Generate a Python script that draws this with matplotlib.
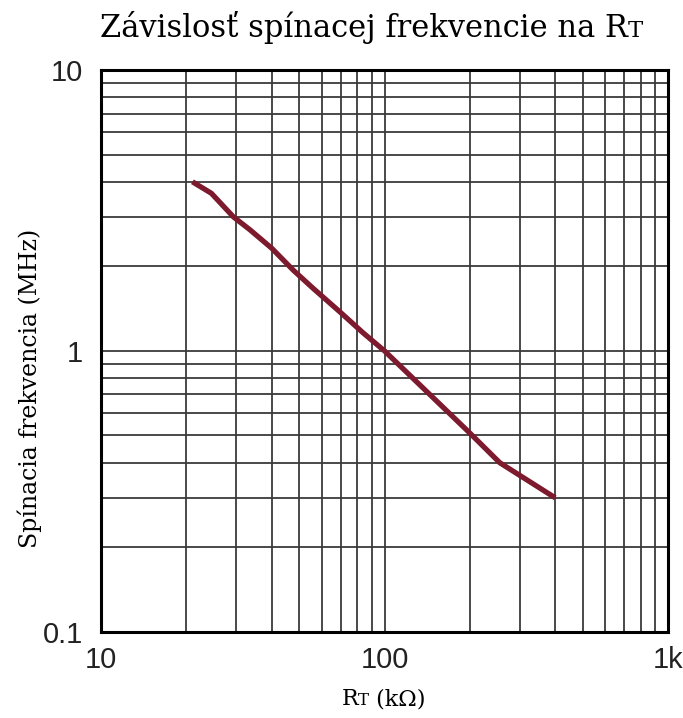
import matplotlib
matplotlib.use("Agg")
import matplotlib.pyplot as plt
from matplotlib.ticker import LogLocator, FixedLocator, FixedFormatter, NullFormatter

# values (RT in kOhm, frequency in MHz)
rt_kohm = [21, 24.5, 29.3, 33.5, 40, 47.6, 56, 70, 84, 100, 200, 255, 400]
freq_mhz = [4.0, 3.64, 3.0, 2.70, 2.32, 1.94, 1.67, 1.37, 1.16, 1.0, 0.51, 0.40, 0.30]
x_ticks = [10, 100, 1000]
x_labels = ["10", "100", "1k"]
y_ticks = [0.1, 1, 10]
y_labels = ["0.1", "1", "10"]

serif = "DejaVu Serif"
sans = "Liberation Sans"

fig = plt.figure(figsize=(6.83, 7.18), dpi=100)
ax = fig.add_axes([0.148, 0.120, 0.830, 0.7825])
ax.set_xscale("log"); ax.set_yscale("log")
ax.set_xlim(10, 1000); ax.set_ylim(0.1, 10)

ax.plot(rt_kohm, freq_mhz, color="#7d1a2e", lw=3.8, solid_capstyle="butt", zorder=3)

for a in (ax.xaxis, ax.yaxis):
    a.set_minor_locator(LogLocator(base=10, subs=range(2, 10)))
    a.set_minor_formatter(NullFormatter())
ax.xaxis.set_major_locator(FixedLocator(x_ticks)); ax.xaxis.set_major_formatter(FixedFormatter(x_labels))
ax.yaxis.set_major_locator(FixedLocator(y_ticks)); ax.yaxis.set_major_formatter(FixedFormatter(y_labels))
ax.grid(True, which="both", color="#3a3a3a", lw=1.3)
ax.tick_params(which="both", length=0, labelsize=21, labelcolor="#222222", labelfontfamily=sans)
ax.tick_params(axis="x", pad=10)
ax.tick_params(axis="y", pad=13)
for s in ax.spines.values():
    s.set_linewidth(2.2); s.set_color("black"); s.set_zorder(4)

ax.set_ylabel("Spínacia frekvencia (MHz)", family=serif, fontsize=17)
ax.yaxis.set_label_coords(-0.104, 0.434)

# title and x label with a small-cap "T" after the R
fig.canvas.draw()
r = fig.canvas.get_renderer()

def smallcap_text(x, y, main, small, size, tail=""):
    t1 = fig.text(x, y, main, family=serif, fontsize=size, ha="left", va="baseline")
    bb = t1.get_window_extent(r).transformed(fig.transFigure.inverted())
    t2 = fig.text(bb.x1, y, small, family=serif, fontsize=size * 0.75, ha="left", va="baseline")
    if tail:
        bb2 = t2.get_window_extent(r).transformed(fig.transFigure.inverted())
        fig.text(bb2.x1, y, tail, family=serif, fontsize=size, ha="left", va="baseline")

smallcap_text(0.146, 0.949, "Závislosť spínacej frekvencie na R", "T", 22)
smallcap_text(0.500, 0.018, "R", "T", 16, " (kΩ)")

fig.savefig("out.png", dpi=100)
